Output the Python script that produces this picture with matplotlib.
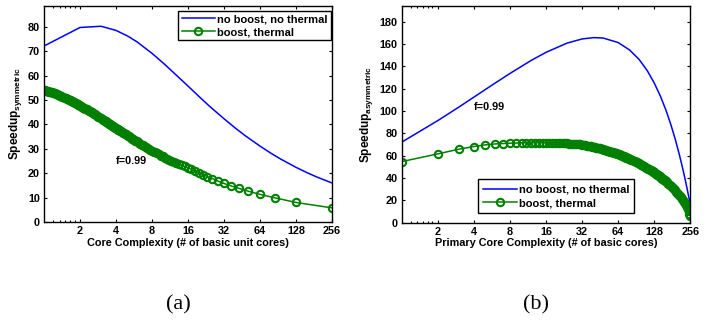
import numpy as np
import matplotlib
matplotlib.use("Agg")
import matplotlib.pyplot as plt
from matplotlib.ticker import FixedLocator, NullFormatter

plt.rcParams['font.family'] = ['Liberation Sans', 'DejaVu Sans']
plt.rcParams['mathtext.fontset'] = 'custom'
plt.rcParams['mathtext.rm'] = 'Liberation Sans'

BLUE = '#0000ff'
GREEN = '#008000'

# ---- (a) symmetric ----
sym_r = [1, 2, 3, 4, 5, 6, 8, 10, 12, 16, 20, 24, 32, 40, 48, 64, 80, 96, 128, 160, 192, 224, 256]
sym_noboost = [72.1, 79.7, 80.2, 78.5, 76.2, 73.8, 69.1, 65.0, 61.4, 55.7, 51.2, 47.6, 42.3,
               38.4, 35.4, 31.1, 28.0, 25.7, 22.4, 20.1, 18.4, 17.1, 16.0]

# number of cores on the chip (core size r = 256 / cores)
sym_cores = list(range(1, 81)) + list(range(82, 161, 2)) + list(range(164, 257, 4))
sym_boost = [5.8, 8.0, 9.9, 11.3, 12.6, 13.8, 14.8, 15.8, 16.8, 17.8,
             18.6, 19.4, 20.2, 20.9, 21.6, 22.2, 22.8, 23.3, 23.8, 24.3,
             24.7, 25.1, 25.6, 26.0, 26.4, 26.9, 27.2, 27.7, 28.1, 28.5,
             28.8, 29.2, 29.6, 30.0, 30.3, 30.7, 31.0, 31.4, 31.7, 32.1,
             32.4, 32.7, 33.0, 33.3, 33.6, 33.9, 34.2, 34.5, 34.8, 35.1,
             35.4, 35.6, 35.9, 36.2, 36.4, 36.6, 36.9, 37.1, 37.4, 37.6,
             37.8, 38.1, 38.3, 38.5, 38.7, 38.9, 39.1, 39.3, 39.5, 39.7,
             39.9, 40.1, 40.3, 40.5, 40.7, 40.9, 41.1, 41.2, 41.4, 41.6,
             41.9, 42.3, 42.6, 42.9, 43.2, 43.5, 43.8, 44.1, 44.4, 44.6,
             44.9, 45.1, 45.4, 45.6, 45.9, 46.1, 46.3, 46.5, 46.7, 46.9,
             47.1, 47.3, 47.5, 47.7, 47.9, 48.1, 48.2, 48.4, 48.6, 48.7,
             48.9, 49.1, 49.2, 49.4, 49.5, 49.7, 49.8, 50.0, 50.1, 50.2,
             50.5, 50.7, 51.0, 51.2, 51.4, 51.6, 51.8, 52.0, 52.2, 52.4,
             52.5, 52.7, 52.9, 53.0, 53.1, 53.2, 53.3, 53.4, 53.5, 53.6,
             53.7, 53.8, 53.9, 54.0]

# ---- (b) asymmetric ----
asym_r = [1, 2, 3, 4, 6, 8, 12, 16, 24, 32, 40, 48, 64, 80, 96, 112, 128, 144, 160, 176,
          192, 208, 216, 224, 232, 240, 248, 252, 256]
asym_noboost = [72.1, 91.4, 103.5, 112.4, 124.9, 133.6, 145.2, 152.5, 160.8, 164.5, 165.7,
                165.3, 161.3, 154.5, 146.0, 136.1, 125.1, 113.4, 101.0, 88.0, 74.5, 60.4,
                53.2, 46.0, 38.6, 31.2, 23.6, 19.8, 16.0]

asym_r2 = list(range(1, 81)) + list(range(82, 161, 2)) + list(range(164, 257, 4))
asym_boost = [54.7, 61.6, 65.8, 68.2, 69.7, 70.5, 70.9, 71.2, 71.4, 71.5,
              71.6, 71.6, 71.6, 71.6, 71.6, 71.5, 71.5, 71.5, 71.4, 71.4,
              71.3, 71.2, 71.1, 71.0, 70.9, 70.8, 70.7, 70.5, 70.4, 70.3,
              70.1, 70.0, 69.7, 69.4, 69.1, 68.8, 68.5, 68.3, 68.0, 67.7,
              67.5, 67.3, 67.0, 66.8, 66.6, 66.3, 66.0, 65.7, 65.4, 65.1,
              64.8, 64.5, 64.2, 64.0, 63.7, 63.4, 63.2, 62.9, 62.7, 62.4,
              62.2, 62.0, 61.7, 61.5, 61.2, 60.9, 60.6, 60.3, 60.0, 59.7,
              59.4, 59.1, 58.8, 58.6, 58.3, 58.0, 57.8, 57.5, 57.2, 57.0,
              56.5, 56.0, 55.5, 55.1, 54.6, 54.1, 53.5, 53.0, 52.4, 51.9,
              51.4, 50.9, 50.4, 49.9, 49.4, 48.9, 48.3, 47.8, 47.3, 46.9,
              46.4, 45.9, 45.5, 45.0, 44.5, 43.9, 43.4, 42.9, 42.4, 41.9,
              41.4, 40.9, 40.4, 40.0, 39.5, 39.0, 38.5, 38.0, 37.5, 37.0,
              36.0, 35.0, 34.1, 33.1, 32.2, 31.2, 30.0, 28.9, 27.9, 26.8,
              25.8, 24.8, 23.8, 22.7, 21.3, 20.0, 18.6, 17.2, 15.9, 14.4,
              12.2, 10.1, 8.0, 6.0]

xticks = [2, 4, 8, 16, 32, 64, 128, 256]


def style_axis(ax, ymax, ystep):
    ax.set_xscale('log', base=2)
    ax.set_xlim(1, 256)
    ax.set_ylim(0, ymax)
    ax.set_xticks(xticks, labels=[str(v) for v in xticks])
    ax.xaxis.set_minor_locator(FixedLocator([1.2, 1.35, 1.5, 1.65, 1.8]))
    ax.xaxis.set_minor_formatter(NullFormatter())
    ax.set_yticks(np.arange(0, ymax, ystep))
    ax.tick_params(which='both', direction='in', top=True, right=True,
                   labelsize=7.8, length=2.5, width=0.8, pad=3)
    ax.tick_params(which='minor', length=1.5)
    for lab in ax.get_xticklabels() + ax.get_yticklabels():
        lab.set_fontweight('bold')
    for s in ax.spines.values():
        s.set_linewidth(1.0)


def add_legend(ax, spacing, pad, **kw):
    leg = ax.legend(borderaxespad=0, fancybox=False, edgecolor='black', framealpha=1,
                    prop={'size': 8, 'weight': 'bold'}, handlelength=3.0,
                    handletextpad=0.2, borderpad=pad, labelspacing=spacing, **kw)
    leg.get_frame().set_linewidth(1.0)


fig = plt.figure(figsize=(7.16, 3.2), dpi=100)

ax1 = fig.add_axes([44 / 716, 98 / 320, 288 / 716, 216 / 320])
r_sym_boost = [256 / c for c in sym_cores]
ax1.plot(sym_r, sym_noboost, color=BLUE, lw=1.1, label='no boost, no thermal')
ax1.plot(r_sym_boost, sym_boost, color=GREEN, lw=1.1, marker='o', ms=5.3,
         mfc='none', mew=1.5, label='boost, thermal')
style_axis(ax1, 88.5, 10)
ax1.set_xlabel('Core Complexity (# of basic unit cores)', fontsize=7.8,
               fontweight='bold', labelpad=1)
ax1.set_ylabel(r'Speedup$_{\mathregular{symmetric}}$', fontsize=8.5,
               fontweight='bold', labelpad=3)
ax1.text(5.4, 25, 'f=0.99', fontsize=7.8, fontweight='bold', ha='center', va='center')
add_legend(ax1, 0.25, 0.3, loc='upper right', bbox_to_anchor=(0.997, 0.977))

ax2 = fig.add_axes([401.7 / 716, 97.3 / 320, 288.6 / 716, 216.7 / 320])
ax2.plot(asym_r, asym_noboost, color=BLUE, lw=1.1, label='no boost, no thermal')
ax2.plot(asym_r2, asym_boost, color=GREEN, lw=1.1, marker='o', ms=5.3,
         mfc='none', mew=1.5, label='boost, thermal')
style_axis(ax2, 194, 20)
ax2.set_xlabel('Primary Core Complexity (# of basic cores)', fontsize=7.8,
               fontweight='bold', labelpad=1)
ax2.set_ylabel(r'Speedup$_{\mathregular{asymmetric}}$', fontsize=8.5,
               fontweight='bold', labelpad=3)
ax2.text(5.44, 103.5, 'f=0.99', fontsize=7.8, fontweight='bold', ha='center', va='center')
add_legend(ax2, 0.35, 0.45, loc='lower left', bbox_to_anchor=(0.265, 0.043))

fig.text(178 / 716, 1 - 305 / 320, '(a)', family='Liberation Serif', fontsize=16,
         ha='center', va='center')
fig.text(536 / 716, 1 - 305 / 320, '(b)', family='Liberation Serif', fontsize=16,
         ha='center', va='center')

fig.savefig('out.png', dpi=100)
